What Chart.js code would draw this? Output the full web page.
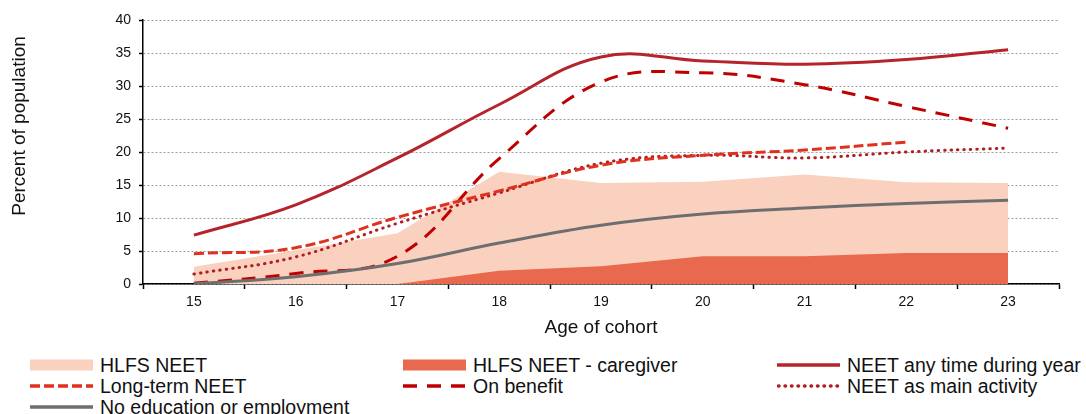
<!DOCTYPE html>
<html>
<head>
<meta charset="utf-8">
<script src="https://cdn.jsdelivr.net/npm/chart.js@4.4.1/dist/chart.umd.min.js"></script>
<style>
  html, body { margin: 0; padding: 0; background: #fff; }
  #wrap { position: relative; width: 1086px; height: 414px; font-family: "Liberation Sans", Arial, sans-serif; }
  #box { position: absolute; left: 0; top: 0; width: 1086px; height: 345px; }
  .lg { position: absolute; display: flex; align-items: center; height: 21px; font-size: 19.5px; color: #111; white-space: nowrap; }
  .lg svg { margin-right: 7px; flex: none; }
</style>
</head>
<body>
<div id="wrap">
  <div id="box"><canvas id="chart"></canvas></div>
  <div id="legend"></div>
</div>
<script>
/* ---- data ---- */
const AGES = ['15', '16', '17', '18', '19', '20', '21', '22', '23'];

const HLFS_NEET        = [2.6, 5.1, 7.7, 17.0, 15.3, 15.5, 16.6, 15.4, 15.3];
const HLFS_CAREGIVER   = [0, 0, 0, 2.0, 2.7, 4.2, 4.2, 4.7, 4.7];
const NEET_ANY_TIME    = [7.4, 12.0, 19.1, 27.2, 34.4, 33.8, 33.3, 34.0, 35.5];
const LONG_TERM_NEET   = [4.6, 5.5, 10.1, 14.1, 18.0, 19.5, 20.3, 21.5, null];
const ON_BENEFIT       = [0.1, 1.6, 4.2, 19.0, 30.6, 32.0, 30.2, 26.9, 23.6];
const NEET_MAIN_ACT    = [1.5, 4.1, 9.2, 13.8, 18.3, 19.5, 19.1, 20.0, 20.6];
const NO_EDU_EMPLOY    = [0, 1.1, 3.1, 6.2, 8.9, 10.6, 11.5, 12.2, 12.7];

const Y_TICKS = [0, 5, 10, 15, 20, 25, 30, 35, 40];
const X_TITLE = 'Age of cohort';
const Y_TITLE = 'Percent of population';

const FONT = '"Liberation Sans", Arial, sans-serif';
const INK = '#111';

const C_LIGHT = '#fad0be';
const C_CARE  = '#e8694d';
const C_ANY   = '#b5242a';
const C_LONG  = '#e0301e';
const C_BEN   = '#c00000';
const C_MAIN  = '#b01e23';
const C_GREY  = '#6e6e6e';

function lineDs(label, data, color, dash, order, cap) {
  return { label, data, borderColor: color, backgroundColor: color, borderWidth: 3,
    borderDash: dash, borderCapStyle: cap || 'butt', tension: 0.4, pointRadius: 0,
    fill: false, order, legendDash: dash, legendCap: cap || 'butt' };
}

const datasets = [
  { label: 'HLFS NEET', data: HLFS_NEET, backgroundColor: C_LIGHT, borderWidth: 0,
    pointRadius: 0, fill: 'origin', tension: 0, order: 10, legendArea: true },
  { label: 'HLFS NEET - caregiver', data: HLFS_CAREGIVER, backgroundColor: C_CARE, borderWidth: 0,
    pointRadius: 0, fill: 'origin', tension: 0, order: 9, legendArea: true },
  lineDs('NEET any time during year', NEET_ANY_TIME, C_ANY, [], 2),
  lineDs('Long-term NEET', LONG_TERM_NEET, C_LONG, [10, 4], 3),
  lineDs('On benefit', ON_BENEFIT, C_BEN, [14, 10], 4),
  lineDs('NEET as main activity', NEET_MAIN_ACT, C_MAIN, [0.5, 6], 5, 'round'),
  lineDs('No education or employment', NO_EDU_EMPLOY, C_GREY, [], 1)
];

// y title sits above the plot centre in the original, so draw it by hand
const yTitlePlugin = {
  id: 'yTitle',
  afterDraw(chart) {
    const ctx = chart.ctx;
    ctx.save();
    ctx.translate(20, 126);
    ctx.rotate(-Math.PI / 2);
    ctx.font = '19px ' + FONT;
    ctx.fillStyle = INK;
    ctx.textAlign = 'center';
    ctx.textBaseline = 'middle';
    ctx.fillText(Y_TITLE, 0, 0);
    ctx.restore();
  }
};

const chart = new Chart(document.getElementById('chart'), {
  type: 'line',
  data: { labels: AGES, datasets },
  options: {
    responsive: true, maintainAspectRatio: false, animation: false,
    layout: { padding: { top: 20, right: 27, left: 0, bottom: 0 } },
    plugins: { legend: { display: false }, tooltip: { enabled: false } },
    scales: {
      x: {
        offset: true,
        ticks: { color: INK, font: { size: 14, family: FONT }, padding: 5, maxRotation: 0 },
        grid: { offset: true, drawOnChartArea: false, tickLength: 5, tickColor: '#000', tickWidth: 1.5 },
        border: { color: '#000', width: 1.5 },
        title: { display: true, text: X_TITLE, color: INK, font: { size: 19, family: FONT },
          padding: { top: 0, bottom: 6 } },
        afterFit(scale) { scale.height = 61; }
      },
      y: {
        min: 0, max: 40,
        afterBuildTicks(scale) { scale.ticks = Y_TICKS.map(v => ({ value: v })); },
        ticks: { color: INK, font: { size: 14, family: FONT }, padding: 8 },
        grid: { color: '#9c9c9c', lineWidth: 1, tickLength: 4, tickColor: '#000', tickWidth: 1.5, tickBorderDash: [] },
        border: { color: '#000', width: 1.5, dash: [2, 2] },
        afterFit(scale) { scale.width = 143; }
      }
    }
  },
  plugins: [yTitlePlugin]
});

/* ---- legend: 3 columns, row-major like the original ---- */
const COL_X = [30, 403, 777];
const ROW_Y = [365, 386, 407];
const legend = document.getElementById('legend');
datasets.forEach((ds, i) => {
  const el = document.createElement('div');
  el.className = 'lg';
  el.style.left = COL_X[i % 3] + 'px';
  el.style.top = (ROW_Y[Math.floor(i / 3)] - 10.5) + 'px';
  let sym;
  if (ds.legendArea) {
    sym = `<svg width="63" height="12"><rect x="0" y="0.5" width="63" height="11" fill="${ds.backgroundColor}"/></svg>`;
  } else {
    sym = `<svg width="63" height="12"><line x1="${ds.legendCap === 'round' ? 1.5 : 0}" y1="6" x2="63" y2="6" stroke="${ds.borderColor}"
      stroke-width="3.5" stroke-linecap="${ds.legendCap}" stroke-dasharray="${ds.legendDash.join(' ') || 'none'}"/></svg>`;
  }
  el.innerHTML = sym + '<span></span>';
  el.querySelector('span').textContent = ds.label;
  legend.appendChild(el);
});
</script>
</body>
</html>
